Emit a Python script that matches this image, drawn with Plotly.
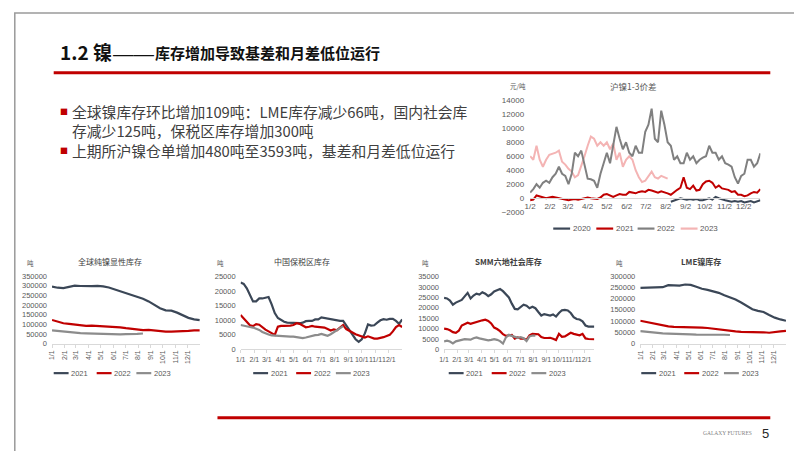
import plotly.graph_objects as go
from datetime import date, timedelta

# ---------------- data ----------------
YEAR0 = date(2022, 1, 1)

# 沪镍1-3价差 (元/吨), 5-day samples; start offsets in days from 1/1
spread_start = {"2020": 221, "2021": 1, "2022": 1, "2023": 1}
spread_2020 = [-500, -300, -200, 0, -100, -200, -100, -200, -100, -300, -300, -100, 0, -200, 200,
               0, -200, -300, -400, -500, -400, -500, -400, -600, -500, -400, -600, -400, -300]
spread_2021 = [-300, -200, 400, 300, 200, 0, 100, 200, 100, 0,
               -100, -200, -300, -200, -100, -200, -100, 0, 100, 0,
               0, -100, 100, 500, 600, 400, 200, 400, 600, 500,
               500, 900, 800, 700, 900, 1000, 900, 1200, 1100, 900,
               800, 1000, 900, 700, 500, 900, 1200, 1500, 3000, 1500,
               1300, 1800, 1100, 1200, 2000, 2400, 2500, 2200, 1500, 1800,
               1400, 1300, 1200, 900, 1000, 500, 500, 300, 400, 700,
               900, 800, 1300]
spread_2022 = [800, 1300, 2000, 1500, 2200, 2500, 2200, 3000, 3500, 4500,
               3500, 3200, 2000, 3500, 6500, 6000, 6800, 5000, 2800, 2700,
               2500, 1500, 3500, 5000, 6500, 5000, 7500, 10200, 8500, 7000,
               8000, 6500, 6000, 7500, 6500, 6500, 9500, 10500, 12800, 8500,
               8000, 12500, 10500, 8000, 7500, 5500, 6000, 5000, 5000, 6500,
               5500, 6000, 5000, 5500, 5800, 6000, 7500, 6500, 6500, 5500,
               6000, 5000, 4800, 4500, 3000, 2100, 3200, 3500, 5500, 5500,
               4500, 5000, 6400]
spread_2023 = [6000, 5500, 7500, 5500, 4500, 5500, 6200, 6300, 6500, 6800,
               5200, 4800, 4200, 3800, 3000, 3300, 4500, 6000, 7500, 8800,
               8500, 7500, 8000, 7500, 8000, 7000, 7800, 5500, 6500, 4500,
               5500, 6000, 5500, 4000, 3000, 2300, 2500, 3200, 3800, 3000,
               2800, 3200, 3000, 2800]

# 全球纯镍显性库存 (吨), bi-weekly from 1/1
global_2021 = [295000, 289000, 287000, 292000, 300000, 298000, 296000, 297000, 298000, 296000,
               290000, 280000, 270000, 262000, 254000, 244000, 232000, 218000, 201000, 183000,
               172000, 170000, 160000, 145000, 133000, 125000, 121000]
global_2022 = [122000, 113000, 105000, 102000, 99000, 93000, 91000, 93000, 92000, 90000,
               87000, 85000, 84000, 80000, 76000, 72000, 70000, 71000, 67000, 64000,
               62000, 62000, 63000, 62000, 66000, 68000, 68000]
global_2023 = [68000, 65000, 62000, 58000, 56000, 54000, 53000, 52000, 50000, 49000,
               48000, 46000, 47000, 49000, 48000, 50000, 52000]

# 中国保税区库存 (吨), weekly from 1/1
bonded_2021 = [23000, 22500, 21000, 18500, 16500, 16500, 17500, 17500, 17800, 18000,
               15500, 12500, 10800, 10000, 9500, 9200, 9100, 9100, 9100, 9000,
               9200, 9700, 9800, 9800, 10300, 10300, 11000, 10800, 10600, 10500,
               10100, 9900, 9800, 9800, 8300, 6500, 5000, 3500, 2600, 3500,
               5500, 8600, 8200, 8300, 9200, 10000, 10400, 10200, 10500, 10500,
               9800, 8800, 10300]
bonded_2022 = [11800, 10500, 9200, 8300, 8000, 8700, 8500, 7600, 6800, 6200,
               5700, 5000, 7800, 8100, 8100, 8100, 8200, 8400, 9000, 8800,
               8200, 7600, 7800, 8100, 7800, 7700, 7600, 7500, 7000, 6500,
               6900, 6600, 7500, 8400, 7000, 6500, 5800, 5200, 4800, 4300,
               4100, 4500, 4200, 3700, 3700, 3900, 4200, 4600, 5000, 6200,
               7700, 8400, 7700]
bonded_2023 = [8400, 8100, 7900, 7700, 7500, 7100, 6700, 6000, 5500, 5100,
               4800, 4700, 4600, 4500, 4400, 4400, 4400, 4400, 4300, 4100,
               3900, 4100, 4400, 4700, 4900, 5000, 5300, 5000, 4700, 5200,
               5900, 6600, 7200, 8000]

# SMM六地社会库存 (吨), weekly from 1/1
smm_2021 = [24800, 24500, 23500, 21500, 22500, 23300, 23800, 25500, 27200, 24500,
            25900, 26800, 26400, 27500, 26800, 25600, 26500, 27900, 28300, 29000,
            28000, 26500, 25000, 22000, 19500, 19300, 20300, 21500, 21000, 19800,
            20500, 19800, 18000, 16300, 17000, 16800, 16300, 16800, 15800, 17500,
            18800, 19000, 18700, 17500, 15500, 14600, 14400, 13500, 11500, 11000,
            11100, 11000]
smm_2022 = [10000, 9800, 9200, 8300, 8000, 9000, 11500, 12300, 12800, 12300,
            12800, 13300, 13700, 14000, 14300, 13700, 12500, 10500, 9800, 8800,
            7300, 6500, 6800, 7000, 5200, 5800, 5200, 5200, 4600, 6800,
            7500, 7500, 7300, 6000, 5500, 5500, 5600, 5100, 4500, 7500,
            6100, 6300, 7200, 8000, 7500, 7000, 6800, 7500, 5300, 5000,
            4900, 4900]
smm_2023 = [3900, 4200, 3800, 2900, 3900, 4300, 4700, 4900, 4800, 4700,
            5400, 5800, 5300, 4900, 4600, 4400, 4600, 4900, 4600, 4000,
            2800, 5800, 7000, 6500, 5800, 5600, 5900, 5400, 4000, 6300,
            6700, 6600]

# LME镍库存 (吨), bi-weekly from 1/1
lme_2021 = [247000, 248000, 248000, 248000, 250000, 259000, 258000, 257000, 262000, 260000,
            252000, 243000, 238000, 232000, 225000, 214000, 205000, 195000, 182000, 165000,
            152000, 145000, 140000, 127000, 115000, 107000, 101000]
lme_2022 = [101000, 96000, 90000, 85000, 81000, 76000, 74000, 74000, 74000, 73000,
            73000, 71000, 69000, 66000, 60000, 57000, 56000, 54000, 52000, 52000,
            52000, 51000, 50000, 48000, 52000, 54000, 56000]
lme_2023 = [55000, 52000, 49000, 47000, 45000, 44000, 44000, 43000, 42000, 41000,
            40000, 39000, 39000, 40000, 39000, 39000, 38000]

main_tick_text = ["1/2", "2/2", "3/2", "4/2", "5/2", "6/2", "7/2", "8/2", "9/2", "10/2", "11/2", "12/2"]
small_tick_text = ["1/1", "2/1", "3/1", "4/1", "5/1", "6/1", "7/1", "8/1", "9/1", "10/1", "11/1", "12/1"]

bullet_lines = ["全球镍库存环比增加109吨：LME库存减少66吨，国内社会库",
                "存减少125吨，保税区库存增加300吨",
                "上期所沪镍仓单增加480吨至3593吨，基差和月差低位运行"]

# ---------------- styling ----------------
W, H = 802, 451
CJK = "Noto Sans CJK SC"
NUM = "Liberation Sans, Arial, sans-serif"
DARK = "#3B4757"
RED = "#C00000"
GRAY = "#808080"
GRAY_S = "#8C8C8C"
PINK = "#F4B4B4"
TICK = "#595959"


def X(px):
    return px / W


def Y(py):
    return 1 - py / H


def dseq(start, step, n):
    return [YEAR0 + timedelta(days=start + step * i) for i in range(n)]


fig = go.Figure()


def add_line(start, step, vals, color, width, ax):
    fig.add_trace(go.Scatter(
        x=dseq(start, step, len(vals)), y=vals, mode="lines",
        line=dict(color=color, width=width), xaxis="x" + ax, yaxis="y" + ax,
        showlegend=False, hoverinfo="skip"))


# main chart
add_line(spread_start["2023"], 5, spread_2023, PINK, 2.0, "")
add_line(spread_start["2022"], 5, spread_2022, GRAY, 2.0, "")
add_line(spread_start["2021"], 5, spread_2021, RED, 2.0, "")
add_line(spread_start["2020"], 5, spread_2020, DARK, 2.0, "")

# small charts
SW = 2.2
add_line(0, 14, global_2021, DARK, SW, "2")
add_line(0, 14, global_2022, RED, SW, "2")
add_line(0, 14, global_2023, GRAY_S, SW, "2")

add_line(0, 7, bonded_2021, DARK, SW, "3")
add_line(0, 7, bonded_2022, RED, SW, "3")
add_line(0, 7, bonded_2023, GRAY_S, SW, "3")

add_line(0, 7, smm_2021, DARK, SW, "4")
add_line(0, 7, smm_2022, RED, SW, "4")
add_line(0, 7, smm_2023, GRAY_S, SW, "4")

add_line(0, 14, lme_2021, DARK, SW, "5")
add_line(0, 14, lme_2022, RED, SW, "5")
add_line(0, 14, lme_2023, GRAY_S, SW, "5")

main_ticks = [date(2022, m, 2) for m in range(1, 13)]
small_ticks = [date(2022, m, 1) for m in range(1, 13)]

tickf = dict(family=NUM, size=7.5, color=TICK)


def small_x(domain, anchor, rng, angle):
    return dict(domain=domain, anchor=anchor, type="date", range=rng,
                tickvals=small_ticks, ticktext=small_tick_text, tickangle=angle,
                showgrid=False, zeroline=False, showline=True, linecolor="#D9D9D9",
                linewidth=1, ticks="outside", ticklen=3, tickcolor="#D9D9D9",
                tickfont=dict(family=NUM, size=7, color=TICK))


def small_y(domain, anchor, rng, dt):
    return dict(domain=domain, anchor=anchor, range=rng, dtick=dt, tickformat="d",
                showgrid=False, zeroline=False, showline=False, ticks="",
                ticklabelstandoff=4, tickfont=tickf)


layout = dict(
    width=W, height=H, margin=dict(l=0, r=0, t=0, b=0),
    paper_bgcolor="white", plot_bgcolor="rgba(0,0,0,0)", showlegend=False,
    xaxis=dict(domain=[X(520), X(752)], anchor="free", position=Y(190), type="date",
               range=["2022-01-02", "2022-12-28"], tickvals=main_ticks, ticktext=main_tick_text,
               tickangle=0, showgrid=False, zeroline=False, showline=True,
               linecolor="#D9D9D9", linewidth=1, ticks="",
               tickfont=dict(family=NUM, size=8, color=TICK)),
    yaxis=dict(domain=[Y(204.3), Y(90)], anchor="x", range=[-2000, 14000], dtick=2000,
               tickformat="d", showgrid=False, zeroline=False, showline=False, ticks="",
               ticklabelstandoff=5, tickfont=dict(family=NUM, size=8, color=TICK)),
    xaxis2=small_x([X(38.3), X(187.2)], "y2", ["2022-01-01", "2022-12-31"], -90),
    yaxis2=small_y([Y(338.3), Y(269.3)], "x2", [0, 350000], 50000),
    xaxis3=small_x([X(228.3), X(391.1)], "y3", ["2022-01-01", "2022-12-31"], 0),
    yaxis3=small_y([Y(344.3), Y(270)], "x3", [0, 25000], 5000),
    xaxis4=small_x([X(433.3), X(584.7)], "y4", ["2022-01-01", "2022-12-24"], 0),
    yaxis4=small_y([Y(344.3), Y(270)], "x4", [0, 35000], 5000),
    xaxis5=small_x([X(631), X(777.8)], "y5", ["2022-01-01", "2022-12-31"], -90),
    yaxis5=small_y([Y(338.3), Y(269.3)], "x5", [0, 300000], 50000),
)
fig.update_layout(**layout)

shapes = []
ann = []


def text(x, y, s, size, color="#404040", family=CJK, xanchor="center"):
    ann.append(dict(x=X(x), y=Y(y), xref="paper", yref="paper", text=s, showarrow=False,
                    xanchor=xanchor, yanchor="middle", borderpad=0,
                    font=dict(family=family, size=size, color=color)))


def hline(x0, x1, y, color, width):
    shapes.append(dict(type="line", xref="paper", yref="paper", x0=X(x0), x1=X(x1),
                       y0=Y(y), y1=Y(y), line=dict(color=color, width=width)))


# slide frame and rules
shapes.append(dict(type="rect", xref="paper", yref="paper", x0=0.001, x1=0.999, y0=0.002, y1=0.998,
                   line=dict(color="#9A9A9A", width=1.5)))
hline(40, 762, 62, RED, 3)
hline(205, 762, 414, RED, 3)

# header
text(45, 40, "<b>1.2 镍</b>", 19, "#111111", xanchor="left")
text(99, 42, "——", 20.5, "#111111", "Liberation Sans", xanchor="left")
text(141, 41, "<b>库存增加导致基差和月差低位运行</b>", 15, "#111111", xanchor="left")

# bullets
text(50, 102, "■", 8, RED)
text(50, 141, "■", 8, RED)
for s, yy in zip(bullet_lines, [101.7, 120.5, 141]):
    text(57, yy, s, 14.8, "#404040", xanchor="left")

# main chart texts
text(624, 75, "沪镍1-3价差", 8.5, TICK)
text(508, 75, "元/吨", 6.5, TICK)
main_legend = [("2020", DARK, 543.3), ("2021", RED, 586.7), ("2022", GRAY, 628.3), ("2023", PINK, 671.7)]
for lab, col, x0 in main_legend:
    hline(x0, x0 + 17, 221, col, 2.2)
    text(x0 + 18.5, 221, lab, 8, TICK, NUM, xanchor="left")

# small chart titles, units and legends
titles = [("全球纯镍显性库存", 97), ("中国保税区库存", 290), ("<b>SMM六地社会库存</b>", 498), ("<b>LME镍库存</b>", 692)]
for s, xx in titles:
    text(xx, 255, s, 8, "#404040")
for xx in [17, 208, 415, 610]:
    text(xx, 256, "吨", 6.5, TICK)
small_legend = [("2021", DARK, 0), ("2022", RED, 43.3), ("2023", GRAY_S, 83.3)]
for base in [40, 241, 438, 632]:
    for lab, col, off in small_legend:
        hline(base + off, base + off + 15, 368.5, col, 2.2)
        text(base + off + 16.7, 368.5, lab, 7.5, TICK, NUM, xanchor="left")

# footer
text(745, 430, "GALAXY FUTURES", 5.5, "#7F7F7F", "Liberation Serif, serif", xanchor="right")
text(757, 430, "5", 13, "#262626", NUM)

fig.update_layout(shapes=shapes, annotations=ann)
fig.write_html("out.html")
